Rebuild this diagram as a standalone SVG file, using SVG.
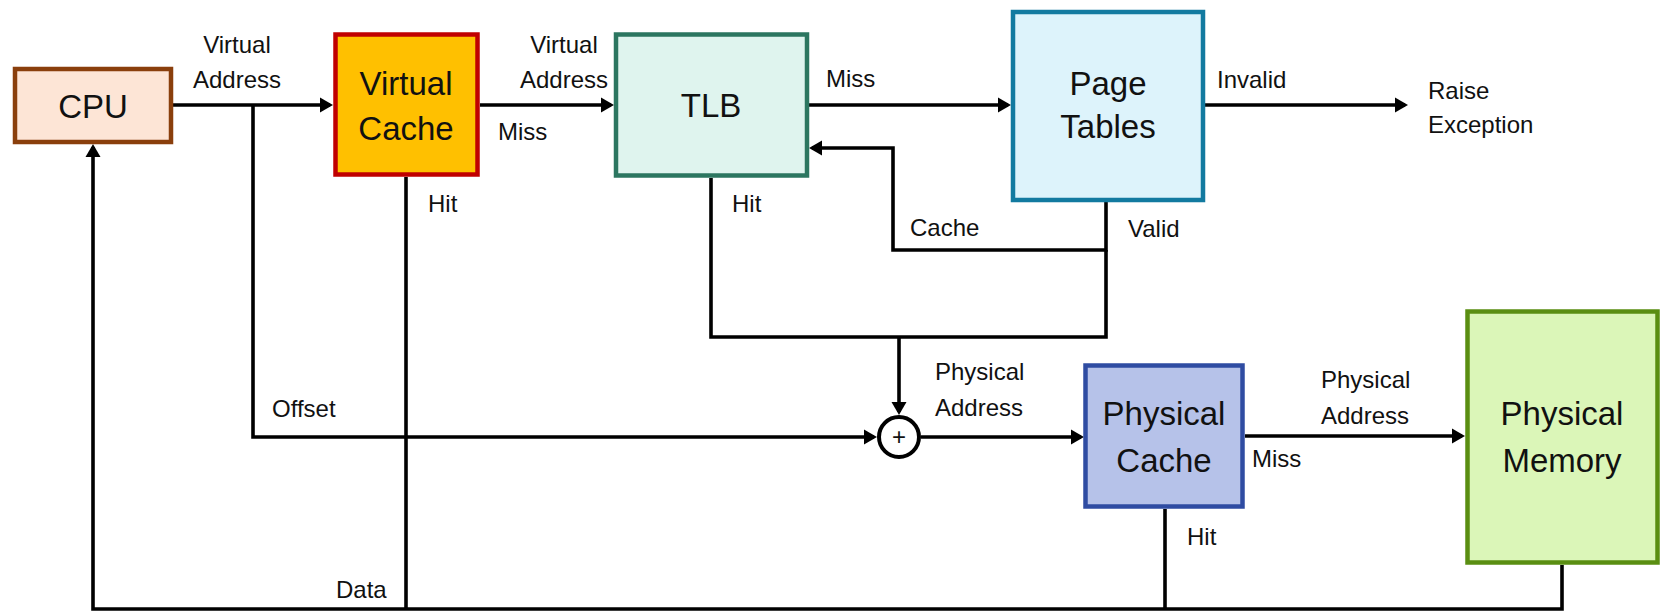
<svg xmlns="http://www.w3.org/2000/svg" width="1661" height="612" viewBox="0 0 1661 612">
<style>
text{font-family:"Liberation Sans",Arial,sans-serif;fill:#111}
.lbl{font-size:24px}
.box{font-size:33px;text-anchor:middle}
.node rect{stroke-width:4.5}
.conn path{fill:none;stroke:#000;stroke-width:3.6;stroke-linejoin:miter}
</style>
<defs>
<marker id="ah" markerUnits="userSpaceOnUse" markerWidth="14" markerHeight="16" viewBox="0 0 14 16" refX="10" refY="8" orient="auto">
<path d="M0,0.5 L13,8 L0,15.5 z" fill="#000"/>
</marker>
</defs>
<rect width="1661" height="612" fill="#fff"/>
<g class="conn" id="connectors">
<path d="M173,105 H330" marker-end="url(#ah)"/>
<path d="M480,105 H611" marker-end="url(#ah)"/>
<path d="M809,105 H1008" marker-end="url(#ah)"/>
<path d="M1205,105 H1405" marker-end="url(#ah)"/>
<path d="M1106,202 V250 H893 V148 H812" marker-end="url(#ah)"/>
<path d="M711,178 V337 H1106 V250"/>
<path d="M899,337 V412" marker-end="url(#ah)"/>
<path d="M253,105 V437 H874" marker-end="url(#ah)"/>
<path d="M921,437 H1081" marker-end="url(#ah)"/>
<path d="M1245,436 H1462" marker-end="url(#ah)"/>
<path d="M406,177 V609"/>
<path d="M1165,509 V609"/>
<path d="M1562,565 V609 H93 V147" marker-end="url(#ah)"/>
</g>
<g id="adder">
<circle cx="899" cy="437" r="20" fill="#fff" stroke="#000" stroke-width="4"/>
<text x="899" y="445" font-size="24" text-anchor="middle">+</text>
</g>
<g class="node" id="cpu">
<rect x="15" y="69" width="156" height="73" fill="#FDE5D6" stroke="#8A3F0C"/>
<text class="box" x="93" y="118">CPU</text>
</g>
<g class="node" id="virtual-cache">
<rect x="335.5" y="34.5" width="142" height="140" fill="#FFC000" stroke="#C00000"/>
<text class="box" x="406" y="95">Virtual</text>
<text class="box" x="406" y="140">Cache</text>
</g>
<g class="node" id="tlb">
<rect x="616" y="34.5" width="191" height="141" fill="#DFF4EE" stroke="#2C7660"/>
<text class="box" x="711" y="117">TLB</text>
</g>
<g class="node" id="page-tables">
<rect x="1013" y="12" width="190" height="188" fill="#DDF3FB" stroke="#127AA0"/>
<text class="box" x="1108" y="95">Page</text>
<text class="box" x="1108" y="138">Tables</text>
</g>
<g class="node" id="physical-cache">
<rect x="1085.5" y="365.5" width="157" height="141" fill="#B6C2E9" stroke="#2F4CA2"/>
<text class="box" x="1164" y="425">Physical</text>
<text class="box" x="1164" y="472">Cache</text>
</g>
<g class="node" id="physical-memory">
<rect x="1467.5" y="311.5" width="190" height="251" fill="#DBF6B8" stroke="#5A8E12"/>
<text class="box" x="1562" y="425">Physical</text>
<text class="box" x="1562" y="472">Memory</text>
</g>
<g id="labels">
<text class="lbl" x="237" y="53" text-anchor="middle">Virtual</text>
<text class="lbl" x="237" y="88" text-anchor="middle">Address</text>
<text class="lbl" x="564" y="53" text-anchor="middle">Virtual</text>
<text class="lbl" x="564" y="88" text-anchor="middle">Address</text>
<text class="lbl" x="498" y="140">Miss</text>
<text class="lbl" x="428" y="212">Hit</text>
<text class="lbl" x="826" y="87">Miss</text>
<text class="lbl" x="732" y="212">Hit</text>
<text class="lbl" x="910" y="236">Cache</text>
<text class="lbl" x="1128" y="237">Valid</text>
<text class="lbl" x="1217" y="88">Invalid</text>
<text class="lbl" x="1428" y="99">Raise</text>
<text class="lbl" x="1428" y="133">Exception</text>
<text class="lbl" x="272" y="417">Offset</text>
<text class="lbl" x="935" y="380">Physical</text>
<text class="lbl" x="935" y="416">Address</text>
<text class="lbl" x="1321" y="388">Physical</text>
<text class="lbl" x="1321" y="424">Address</text>
<text class="lbl" x="1252" y="467">Miss</text>
<text class="lbl" x="1187" y="545">Hit</text>
<text class="lbl" x="336" y="598">Data</text>
</g>
</svg>
